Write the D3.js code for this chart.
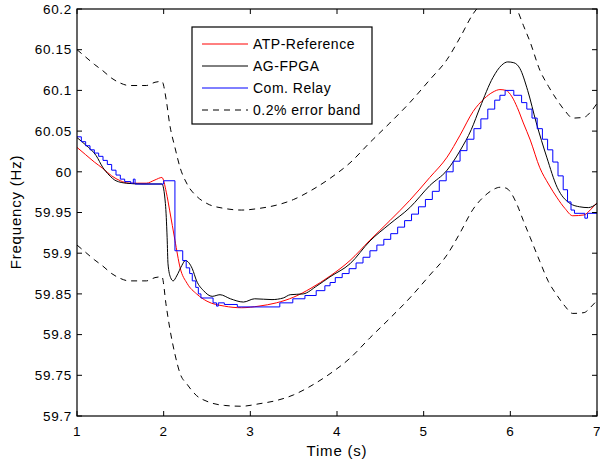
<!DOCTYPE html>
<html>
<head>
<meta charset="utf-8">
<script src="https://cdn.jsdelivr.net/npm/d3@7"></script>
<style>
body { margin: 0; background: #fff; }
text { font-family: Arial, "Liberation Sans", Helvetica, sans-serif; fill: #000; }
</style>
</head>
<body>
<svg id="chart" width="600" height="468"></svg>
<script>
// ATP reference (red) and its 0.2% error band, same time grid
var refT = [1.00, 1.10, 1.20, 1.30, 1.40, 1.50, 1.60, 1.70, 1.80, 1.90, 1.98, 2.03, 2.07, 2.13, 2.19, 2.27, 2.38, 2.50, 2.70, 2.90,
            3.10, 3.30, 3.50, 3.70, 3.92, 4.15, 4.38, 4.61, 4.84, 5.07, 5.27, 5.42, 5.57, 5.70, 5.80, 5.88, 5.95, 6.02, 6.08, 6.15,
            6.23, 6.34, 6.44, 6.54, 6.63, 6.72, 6.85, 6.93, 7.00];
var atpRef = [60.030, 60.021, 60.012, 60.004, 59.995, 59.989, 59.986, 59.986, 59.986, 59.990, 59.993, 59.975, 59.952, 59.916, 59.882, 59.863, 59.850, 59.841, 59.835, 59.833,
              59.835, 59.839, 59.846, 59.857, 59.872, 59.891, 59.916, 59.940, 59.965, 59.993, 60.018, 60.045, 60.074, 60.090, 60.098, 60.101, 60.100, 60.092, 60.079, 60.060,
              60.039, 60.005, 59.985, 59.968, 59.955, 59.946, 59.947, 59.954, 59.962];
var bandUp = [60.150, 60.141, 60.132, 60.124, 60.115, 60.109, 60.106, 60.106, 60.106, 60.110, 60.111, 60.088, 60.058, 60.030, 60.005, 59.985, 59.970, 59.961, 59.955, 59.953,
              59.955, 59.959, 59.966, 59.977, 59.992, 60.011, 60.036, 60.060, 60.085, 60.113, 60.138, 60.165, 60.194, 60.210, 60.218, 60.221, 60.220, 60.212, 60.199, 60.180,
              60.159, 60.125, 60.105, 60.088, 60.075, 60.066, 60.067, 60.074, 60.084];
var bandLo = [59.910, 59.901, 59.892, 59.884, 59.875, 59.869, 59.866, 59.866, 59.866, 59.870, 59.871, 59.835, 59.808, 59.776, 59.752, 59.739, 59.725, 59.718, 59.713, 59.712,
              59.715, 59.719, 59.726, 59.737, 59.752, 59.771, 59.796, 59.820, 59.845, 59.873, 59.898, 59.925, 59.954, 59.970, 59.978, 59.981, 59.980, 59.972, 59.959, 59.940,
              59.919, 59.890, 59.865, 59.848, 59.835, 59.826, 59.827, 59.834, 59.842];

// AG-FPGA (black)
var fpgaT = [1.00, 1.10, 1.22, 1.30, 1.37, 1.45, 1.57, 1.75, 1.98, 2.02, 2.04, 2.05, 2.08, 2.11, 2.15, 2.21, 2.25, 2.33, 2.38, 2.46,
             2.56, 2.65, 2.77, 2.92, 3.05, 3.25, 3.38, 3.46, 3.61, 3.77, 3.92, 4.15, 4.38, 4.61, 4.84, 5.07, 5.27, 5.42, 5.55, 5.65,
             5.80, 5.90, 5.97, 6.04, 6.11, 6.20, 6.30, 6.42, 6.54, 6.69, 6.80, 6.90, 7.00];
var agFpga = [60.042, 60.033, 60.020, 60.005, 59.996, 59.989, 59.986, 59.985, 59.985, 59.961, 59.919, 59.887, 59.870, 59.866, 59.872, 59.885, 59.891, 59.881, 59.866, 59.854,
              59.847, 59.849, 59.844, 59.840, 59.844, 59.843, 59.845, 59.849, 59.850, 59.860, 59.871, 59.887, 59.915, 59.936, 59.956, 59.983, 60.002, 60.026, 60.052, 60.079,
              60.116, 60.131, 60.135, 60.134, 60.127, 60.100, 60.060, 60.018, 59.981, 59.961, 59.957, 59.956, 59.961];

// Com. Relay (blue, stepped)
var relayT = [1.00, 1.05, 1.10, 1.15, 1.20, 1.25, 1.30, 1.35, 1.40, 1.45, 1.50, 1.55, 1.62, 1.65, 1.67, 2.00, 2.13, 2.22, 2.26, 2.30,
              2.33, 2.37, 2.40, 2.43, 2.57, 2.61, 2.63, 2.70, 2.85, 3.34, 3.49, 3.63, 3.76, 3.86, 3.92, 3.98, 4.06, 4.14, 4.22, 4.30,
              4.38, 4.46, 4.54, 4.62, 4.70, 4.78, 4.86, 4.94, 5.02, 5.10, 5.18, 5.26, 5.34, 5.42, 5.50, 5.58, 5.66, 5.74, 5.82, 5.88,
              5.94, 6.04, 6.13, 6.19, 6.25, 6.31, 6.37, 6.43, 6.49, 6.55, 6.61, 6.66, 6.70, 6.74, 6.86, 6.89, 7.00];
var comRelay = [60.043, 60.037, 60.032, 60.027, 60.023, 60.019, 60.014, 60.009, 60.002, 59.996, 59.991, 59.988, 59.986, 59.991, 59.985, 59.989, 59.903, 59.891, 59.882, 59.875,
                59.866, 59.858, 59.850, 59.845, 59.839, 59.835, 59.839, 59.837, 59.834, 59.839, 59.844, 59.848, 59.854, 59.860, 59.864, 59.870, 59.875, 59.881, 59.888, 59.895,
                59.903, 59.910, 59.917, 59.924, 59.932, 59.940, 59.948, 59.957, 59.966, 59.976, 59.989, 60.000, 60.013, 60.026, 60.040, 60.053, 60.065, 60.077, 60.088, 60.094,
                60.100, 60.094, 60.085, 60.077, 60.066, 60.053, 60.040, 60.027, 60.012, 59.995, 59.978, 59.963, 59.953, 59.949, 59.943, 59.949, 59.949];

var xTicks = [1, 2, 3, 4, 5, 6, 7];
var yTicks = [59.7, 59.75, 59.8, 59.85, 59.9, 59.95, 60, 60.05, 60.1, 60.15, 60.2];
var legendNames = ["ATP-Reference", "AG-FPGA", "Com. Relay", "0.2% error band"];

var svg = d3.select("#chart"),
    margin = {top: 9, right: 3, bottom: 52, left: 77},
    width = 600 - margin.left - margin.right,
    height = 468 - margin.top - margin.bottom;

var x = d3.scaleLinear().domain([1, 7]).range([0, width]);
var y = d3.scaleLinear().domain([59.7, 60.2]).range([height, 0]);

var g = svg.append("g")
    .attr("transform", "translate(" + margin.left + "," + margin.top + ")");

g.append("clipPath").attr("id", "plot-clip")
    .append("rect").attr("width", width).attr("height", height);

function zip(ts, vs) { return ts.map(function (t, i) { return [t, vs[i]]; }); }

var line = d3.line().curve(d3.curveMonotoneX)
    .x(function (d) { return x(d[0]); }).y(function (d) { return y(d[1]); });
var stepLine = d3.line().curve(d3.curveStepAfter)
    .x(function (d) { return x(d[0]); }).y(function (d) { return y(d[1]); });

var plot = g.append("g").attr("clip-path", "url(#plot-clip)");

plot.append("path").datum(zip(refT, atpRef))
    .attr("d", line).attr("fill", "none").attr("stroke", "#ff0000").attr("stroke-width", 1);
plot.append("path").datum(zip(fpgaT, agFpga))
    .attr("d", line).attr("fill", "none").attr("stroke", "#000").attr("stroke-width", 1);
plot.append("path").datum(zip(relayT, comRelay))
    .attr("d", stepLine).attr("fill", "none").attr("stroke", "#0000ff").attr("stroke-width", 1);
[bandUp, bandLo].forEach(function (band) {
    plot.append("path").datum(zip(refT, band))
        .attr("d", line).attr("fill", "none").attr("stroke", "#000")
        .attr("stroke-width", 1).attr("stroke-dasharray", "6,5");
});

// axes, MATLAB style: ticks inside on all four sides
var tickLen = 5;
var axisG = g.append("g").attr("stroke", "#000").attr("stroke-width", 1);
xTicks.forEach(function (t) {
    axisG.append("line").attr("x1", x(t)).attr("x2", x(t)).attr("y1", height).attr("y2", height - tickLen);
    axisG.append("line").attr("x1", x(t)).attr("x2", x(t)).attr("y1", 0).attr("y2", tickLen);
});
yTicks.forEach(function (v) {
    axisG.append("line").attr("x1", 0).attr("x2", tickLen).attr("y1", y(v)).attr("y2", y(v));
    axisG.append("line").attr("x1", width).attr("x2", width - tickLen).attr("y1", y(v)).attr("y2", y(v));
});
g.append("rect").attr("width", width).attr("height", height)
    .attr("fill", "none").attr("stroke", "#000").attr("stroke-width", 1.2);

g.selectAll(".xlab").data(xTicks).enter().append("text")
    .attr("x", function (d) { return x(d); })
    .attr("y", height + 20)
    .attr("text-anchor", "middle")
    .attr("font-size", 13.5).attr("letter-spacing", 0.7)
    .text(function (d) { return d; });

g.selectAll(".ylab").data(yTicks).enter().append("text")
    .attr("x", -5)
    .attr("y", function (d) { return y(d); })
    .attr("dy", "0.35em")
    .attr("text-anchor", "end")
    .attr("font-size", 13.5).attr("letter-spacing", 0.7)
    .text(function (d) { return d3.format("~g")(d); });

g.append("text")
    .attr("x", width / 2).attr("y", height + 40)
    .attr("text-anchor", "middle")
    .attr("font-size", 15).attr("letter-spacing", 0.8)
    .text("Time (s)");

g.append("text")
    .attr("transform", "translate(" + (16 - margin.left) + "," + (212 - margin.top) + ") rotate(-90)")
    .attr("dy", "0.35em")
    .attr("text-anchor", "middle")
    .attr("font-size", 15).attr("letter-spacing", 0.8)
    .text("Frequency (Hz)");

// legend
var legend = svg.append("g").attr("transform", "translate(192,27)");
legend.append("rect").attr("width", 180).attr("height", 97)
    .attr("fill", "#fff").attr("stroke", "#000").attr("stroke-width", 1.2);
var legendColors = ["#ff0000", "#000", "#0000ff", "#000"];
var legendDash = [null, null, null, "6,5"];
var rows = legend.selectAll(".row").data(legendNames).enter().append("g")
    .attr("transform", function (d, i) { return "translate(0," + (17 + i * 22) + ")"; });
rows.append("line")
    .attr("x1", 10).attr("x2", 56).attr("y1", 0).attr("y2", 0)
    .attr("stroke", function (d, i) { return legendColors[i]; })
    .attr("stroke-dasharray", function (d, i) { return legendDash[i]; })
    .attr("stroke-width", 1);
rows.append("text")
    .attr("x", 61).attr("dy", "0.35em")
    .attr("font-size", 14).attr("letter-spacing", 0.5)
    .text(function (d) { return d; });
</script>
</body>
</html>
